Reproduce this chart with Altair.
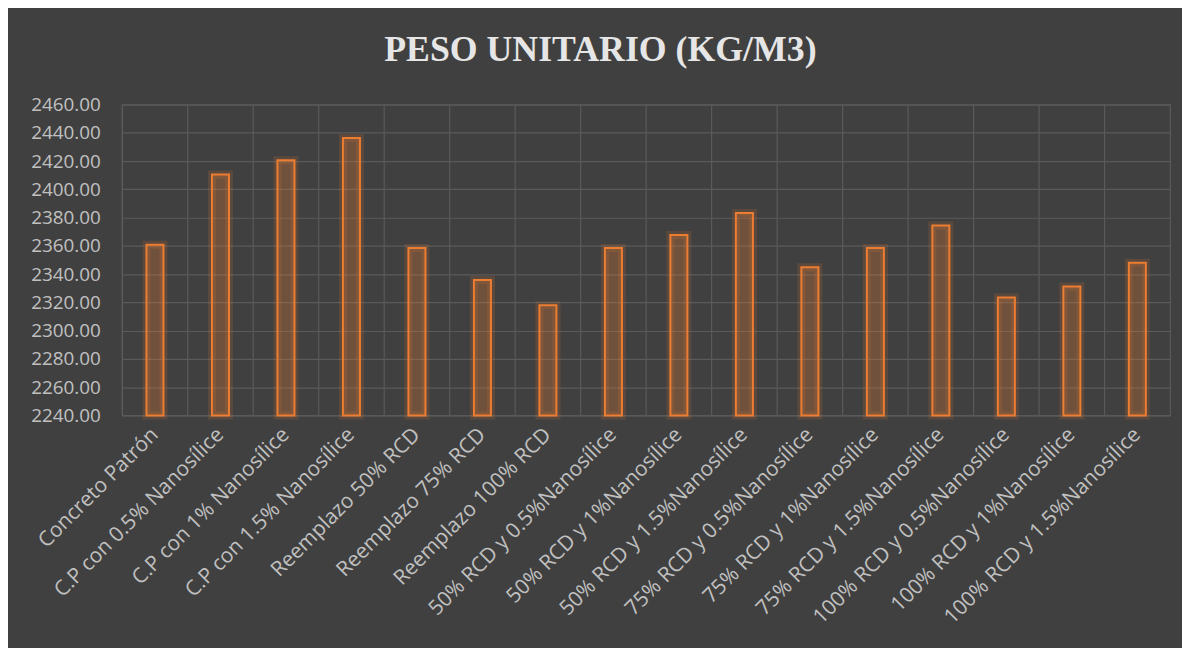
import altair as alt
import pandas as pd

categories = [
    "Concreto Patrón",
    "C.P con 0.5% Nanosílice",
    "C.P con 1% Nanosílice",
    "C.P con 1.5% Nanosílice",
    "Reemplazo 50% RCD",
    "Reemplazo 75% RCD",
    "Reemplazo 100% RCD",
    "50% RCD y 0.5%Nanosílice",
    "50% RCD y 1%Nanosílice",
    "50% RCD y 1.5%Nanosílice",
    "75% RCD y 0.5%Nanosílice",
    "75% RCD y 1%Nanosílice",
    "75% RCD y 1.5%Nanosílice",
    "100% RCD y 0.5%Nanosílice",
    "100% RCD y 1%Nanosílice",
    "100% RCD y 1.5%Nanosílice",
]
values = [2360.8, 2410.5, 2420.6, 2436.3, 2358.4, 2335.9, 2317.9, 2358.4,
          2367.6, 2383.3, 2344.8, 2358.4, 2374.4, 2323.5, 2331.2, 2348.1]
y_ticks = [2240, 2260, 2280, 2300, 2320, 2340, 2360, 2380, 2400, 2420, 2440, 2460]
y_min, y_max = 2240, 2460
title_text = "PESO UNITARIO (KG/M3)"

df = pd.DataFrame({"cat": categories, "val": values})

BG = "#404040"
GRID = "#5a5a5a"
LABEL = "#c0c0c0"
ORANGE = "#ED7D31"
FONT = "Open Sans"

yscale = alt.Scale(domain=[y_min, y_max], zero=False, nice=False)
xscale = alt.Scale(paddingInner=0, paddingOuter=0)

x_axis = alt.Axis(grid=False, ticks=False, domain=False, title=None,
                  labelAngle=-45, labelAlign="right", labelBaseline="middle",
                  labelColor=LABEL, labelFont=FONT, labelFontSize=21,
                  labelPadding=16, labelLimit=400)
y_axis = alt.Axis(values=y_ticks, format=".2f", grid=True, gridColor=GRID,
                  gridWidth=1.2, ticks=False, domain=False, title=None,
                  labelColor=LABEL, labelFont=FONT, labelFontSize=19,
                  labelPadding=22, labelOverlap=False)

x_enc = alt.X("cat:N", sort=categories, scale=xscale, axis=x_axis, title=None)
y_enc = alt.Y("val:Q", scale=yscale, axis=y_axis, title=None)

base = alt.Chart(df)

vgrid = base.mark_rule(color=GRID, strokeWidth=1.2).encode(
    x=alt.X("cat:N", sort=categories, scale=xscale, axis=x_axis, title=None,
            bandPosition=0),
)

glow = base.mark_bar(width=alt.RelativeBandSize(0.26), fill=ORANGE, fillOpacity=0.0,
                     stroke=ORANGE, strokeWidth=8, strokeOpacity=0.16).encode(
    x=x_enc, y=y_enc, y2=alt.datum(y_min),
)

bars = base.mark_bar(width=alt.RelativeBandSize(0.26), fill=ORANGE, fillOpacity=0.28,
                     stroke=ORANGE, strokeWidth=2).encode(
    x=x_enc, y=y_enc, y2=alt.datum(y_min),
)

chart = alt.layer(vgrid, glow, bars).properties(
    width=1055,
    height=313,
    autosize=alt.AutoSizeParams(type="none"),
    padding={"left": 115, "top": 95, "right": 12, "bottom": 232},
    background=BG,
    title=alt.TitleParams(title_text, anchor="middle", frame="bounds",
                          font="Liberation Serif", fontWeight="bold",
                          fontSize=36, color="#e6e6e6", offset=27),
).configure_view(stroke=GRID, strokeWidth=1.2)

chart.save("out.html", embed_options={"renderer": "svg", "actions": False})
